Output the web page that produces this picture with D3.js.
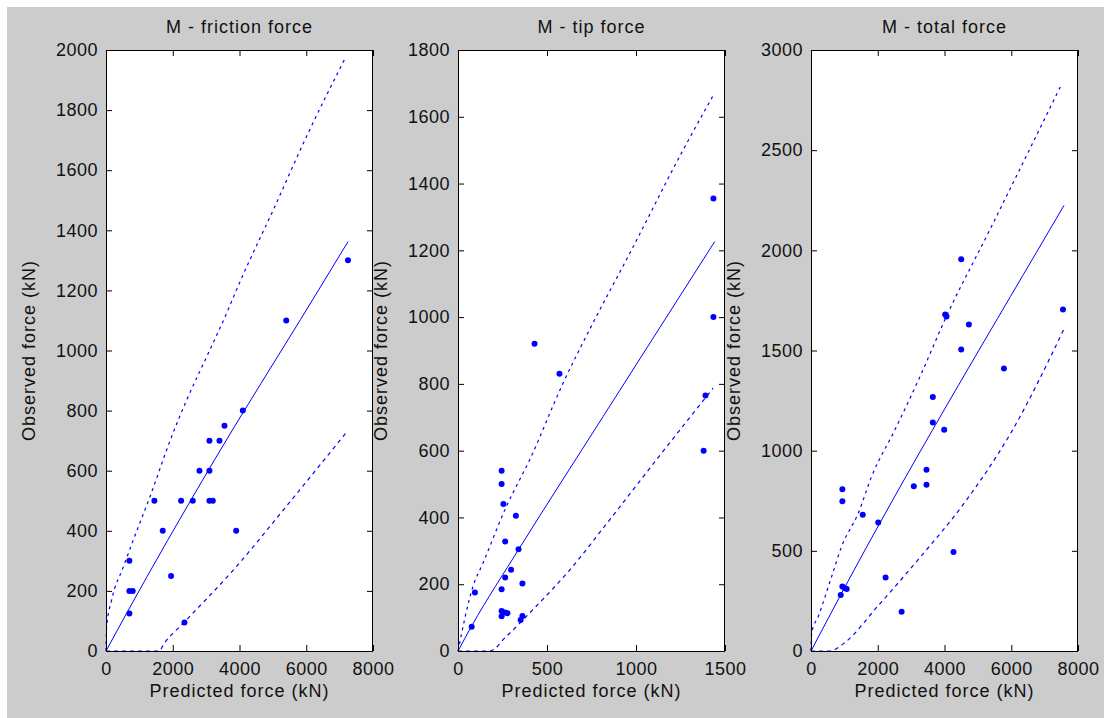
<!DOCTYPE html>
<html>
<head>
<meta charset="utf-8">
<script src="https://cdn.jsdelivr.net/npm/d3@7"></script>
<style>
  html, body { margin: 0; padding: 0; background: #ffffff; }
  svg { display: block; }
  text { font-family: "Liberation Sans", Arial, Helvetica, sans-serif; fill: #111; }
</style>
</head>
<body>
<svg id="chart" width="1104" height="718"></svg>
<script>
// ---------------- data ----------------
const titles = ["M - friction force", "M - tip force", "M - total force"];
const xLabel = "Predicted force (kN)";
const yLabel = "Observed force (kN)";

// Panel 1: friction force
const frictionXTicks = [0, 2000, 4000, 6000, 8000];
const frictionYTicks = [0, 200, 400, 600, 800, 1000, 1200, 1400, 1600, 1800, 2000];
const frictionPred = [5400, 4100, 3550, 3100, 3400, 2800, 3100, 1450, 2250, 2600, 3100, 3200, 1700, 3900, 700, 1950, 700, 800, 700, 2350, 7250];
const frictionObs  = [1100, 800, 750, 700, 700, 600, 600, 500, 500, 500, 500, 500, 400, 400, 300, 250, 200, 200, 125, 95, 1300];
const frictionFitX = [0, 620, 3070, 6220, 7250];
const frictionFitY = [0, 126, 602, 1174, 1362];
const frictionUpX = [0, 20, 170, 520, 820, 1320, 1920, 2420, 3020, 3570, 4020, 5020, 6020, 7190];
const frictionUpY = [0, 80, 170, 280, 370, 514, 700, 836, 980, 1113, 1230, 1470, 1715, 1978];
const frictionLoX = [0, 1600, 1720, 2340, 3820, 5400, 7220];
const frictionLoY = [0, 0, 21, 95, 270, 481, 730];

// Panel 2: tip force
const tipXTicks = [0, 500, 1000, 1500];
const tipYTicks = [0, 200, 400, 600, 800, 1000, 1200, 1400, 1600, 1800];
const tipPred = [1435, 1435, 430, 570, 1390, 1380, 245, 245, 255, 325, 265, 340, 298, 265, 362, 245, 95, 245, 265, 278, 245, 362, 352, 77];
const tipObs  = [1355, 1000, 920, 830, 765, 600, 540, 500, 440, 405, 328, 305, 243, 220, 202, 185, 175, 120, 115, 113, 104, 105, 93, 73];
const tipFitX = [0, 77, 343, 815, 1442];
const tipFitY = [0, 75, 306, 702, 1226];
const tipUpX = [0, 84, 140, 272, 403, 590, 758, 965, 1264, 1438];
const tipUpY = [0, 193, 263, 433, 573, 802, 982, 1191, 1500, 1668];
const tipLoX = [0, 178, 272, 421, 628, 852, 1115, 1433];
const tipLoY = [0, 0, 44, 124, 243, 393, 573, 787];

// Panel 3: total force
const totalXTicks = [0, 2000, 4000, 6000, 8000];
const totalYTicks = [0, 500, 1000, 1500, 2000, 2500, 3000];
const totalPred = [4500, 4020, 4060, 4730, 7550, 4500, 5780, 3650, 3650, 3990, 3460, 3080, 3460, 940, 940, 1550, 2015, 4270, 2235, 940, 1070, 1000, 890, 2715];
const totalObs  = [1955, 1680, 1670, 1630, 1705, 1505, 1410, 1268, 1140, 1105, 905, 823, 830, 808, 748, 680, 642, 494, 367, 322, 310, 315, 280, 196];
const totalFitX = [0, 890, 7150, 7580];
const totalFitY = [0, 280, 2102, 2224];
const totalUpX = [0, 20, 219, 619, 918, 1417, 1816, 2514, 3313, 4010, 5360, 7523];
const totalUpY = [0, 90, 173, 372, 522, 688, 871, 1104, 1387, 1653, 2103, 2834];
const totalLoX = [0, 570, 998, 1995, 3292, 4590, 5986, 7580];
const totalLoY = [0, 0, 40, 223, 472, 738, 1088, 1607];

// ---------------- layout ----------------
const zip = (xs, ys) => xs.map((x, i) => [x, ys[i]]);
const panels = [
  { title: titles[0], left: 106, xMax: 8000, yMax: 2000, xTicks: frictionXTicks, yTicks: frictionYTicks,
    pts: zip(frictionPred, frictionObs), fit: zip(frictionFitX, frictionFitY),
    up: zip(frictionUpX, frictionUpY), lo: zip(frictionLoX, frictionLoY) },
  { title: titles[1], left: 458, xMax: 1500, yMax: 1800, xTicks: tipXTicks, yTicks: tipYTicks,
    pts: zip(tipPred, tipObs), fit: zip(tipFitX, tipFitY),
    up: zip(tipUpX, tipUpY), lo: zip(tipLoX, tipLoY) },
  { title: titles[2], left: 811, xMax: 8000, yMax: 3000, xTicks: totalXTicks, yTicks: totalYTicks,
    pts: zip(totalPred, totalObs), fit: zip(totalFitX, totalFitY),
    up: zip(totalUpX, totalUpY), lo: zip(totalLoX, totalLoY) }
];
const plotW = 267, plotTop = 50, plotBottom = 651;
const blue = "#0000ff";

const svg = d3.select("#chart");
svg.append("rect").attr("x", 7).attr("y", 7).attr("width", 1097).attr("height", 711).attr("fill", "#cccccc");

panels.forEach(p => {
  const x = d3.scaleLinear().domain([0, p.xMax]).range([p.left, p.left + plotW]);
  const y = d3.scaleLinear().domain([0, p.yMax]).range([plotBottom, plotTop]);
  const g = svg.append("g");

  g.append("rect").attr("x", p.left).attr("y", plotTop).attr("width", plotW).attr("height", plotBottom - plotTop)
    .attr("fill", "#ffffff");

  const clipId = "clip" + p.left;
  svg.append("clipPath").attr("id", clipId).append("rect")
    .attr("x", p.left - 2).attr("y", plotTop - 2).attr("width", plotW + 4).attr("height", plotBottom - plotTop + 4);

  const data = g.append("g").attr("clip-path", `url(#${clipId})`);
  const line = d3.line().curve(d3.curveMonotoneX).x(d => x(d[0])).y(d => y(d[1]));
  data.append("path").attr("d", line(p.up)).attr("fill", "none").attr("stroke", blue)
    .attr("stroke-width", 1.2).attr("stroke-dasharray", "3,4");
  data.append("path").attr("d", line(p.lo)).attr("fill", "none").attr("stroke", blue)
    .attr("stroke-width", 1.2).attr("stroke-dasharray", "4,4");
  data.append("path").attr("d", line(p.fit)).attr("fill", "none").attr("stroke", blue)
    .attr("stroke-width", 1);
  data.selectAll("circle").data(p.pts).join("circle")
    .attr("cx", d => x(d[0])).attr("cy", d => y(d[1])).attr("r", 3).attr("fill", blue);

  // axes (ticks inward on all sides)
  const styleAxis = sel => {
    sel.select(".domain").remove();
    sel.selectAll(".tick line").attr("stroke", "#000");
    sel.selectAll("text").style("font-size", "18px").style("letter-spacing", "0.5px")
      .attr("fill", "#111").style("font-family", "'Liberation Sans', Arial, sans-serif");
  };
  g.append("g").attr("transform", `translate(0,${plotBottom})`)
    .call(d3.axisBottom(x).tickValues(p.xTicks).tickFormat(d3.format("d")).tickSizeInner(-6).tickSizeOuter(0).tickPadding(11))
    .call(styleAxis);
  g.append("g").attr("transform", `translate(0,${plotTop})`)
    .call(d3.axisTop(x).tickValues(p.xTicks).tickFormat("").tickSizeInner(-6).tickSizeOuter(0))
    .call(styleAxis);
  g.append("g").attr("transform", `translate(${p.left},0)`)
    .call(d3.axisLeft(y).tickValues(p.yTicks).tickFormat(d3.format("d")).tickSizeInner(-6).tickSizeOuter(0).tickPadding(8))
    .call(styleAxis);
  g.append("g").attr("transform", `translate(${p.left + plotW},0)`)
    .call(d3.axisRight(y).tickValues(p.yTicks).tickFormat("").tickSizeInner(-6).tickSizeOuter(0))
    .call(styleAxis);

  g.append("rect").attr("x", p.left + 0.5).attr("y", plotTop + 0.5).attr("width", plotW - 1).attr("height", plotBottom - plotTop)
    .attr("fill", "none").attr("stroke", "#000").attr("stroke-width", 1);

  // labels
  g.append("text").attr("x", p.left + plotW / 2).attr("y", 33).attr("text-anchor", "middle")
    .style("font-size", "18px").style("letter-spacing", "1px").text(p.title);
  g.append("text").attr("x", p.left + plotW / 2).attr("y", 697).attr("text-anchor", "middle")
    .style("font-size", "18px").style("letter-spacing", "1px").text(xLabel);
  g.append("text").attr("transform", `translate(${p.left - 71},${(plotTop + plotBottom) / 2}) rotate(-90)`)
    .attr("text-anchor", "middle")
    .style("font-size", "18px").style("letter-spacing", "1px").text(yLabel);
});
</script>
</body>
</html>
